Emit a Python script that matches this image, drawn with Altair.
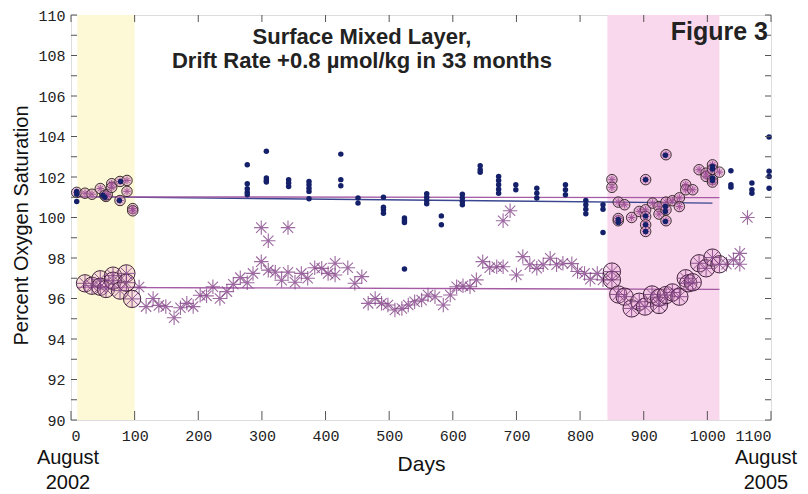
import altair as alt
import pandas as pd

W, H = 700, 405

# ---------------- data ----------------
# navy dots (upper series)
navy_day = [9, 9, 9, 78, 50, 53, 76,
            277, 277, 277, 277, 277,
            307, 307, 307, 307,
            342, 342, 342,
            374, 374, 374, 374, 374,
            424, 424, 424,
            451, 451,
            491, 491, 491, 491,
            524, 524, 524, 524,
            559, 559, 559, 559,
            582, 582,
            615, 615, 615, 615,
            643, 643, 643,
            672, 672, 672, 672, 672,
            699, 699,
            732, 732, 732,
            777, 777, 777,
            809, 809, 809, 809,
            836, 836, 836,
            860, 860,
            903, 903, 903, 903,
            934, 934, 934, 934,
            1008, 1008, 1008, 1008,
            1037, 1037, 1037,
            1070, 1070, 1070,
            1097, 1097, 1097, 1097]
navy_val = [101.29, 101.15, 100.79, 101.78, 101.1, 101.0, 100.84,
            102.61, 101.67, 101.42, 101.25, 101.12,
            103.27, 101.95, 101.83, 101.75,
            101.87, 101.7, 101.53,
            101.78, 101.62, 101.45, 101.29, 100.93,
            103.13, 101.87, 101.57,
            100.96, 100.71,
            101.0, 100.51, 100.38, 100.21,
            99.97, 99.85, 99.75, 97.46,
            101.17, 101.0, 100.84, 100.68,
            100.08, 99.64,
            101.15, 100.96, 100.79, 100.63,
            102.56, 102.36, 102.23,
            102.03, 101.83, 101.62, 101.4, 101.2,
            101.62, 101.37,
            101.45, 101.2, 100.96,
            101.62, 101.37, 101.12,
            100.84, 100.63, 100.41, 100.18,
            100.63, 100.41, 99.26,
            99.9, 99.75,
            101.87, 100.08, 99.64, 99.31,
            103.07, 100.54, 100.3, 99.8,
            102.52, 102.39, 101.95, 101.83,
            102.31, 101.62, 101.5,
            101.7, 101.37, 101.2,
            103.98, 102.28, 102.03, 101.45]

# purple asterisks (lower series, plus a few high ones)
star_day = [107, 118, 129, 138, 149, 162, 172, 182, 192, 203, 213, 223, 234, 245,
            255, 266, 277, 286, 299, 310, 321, 331, 341, 352, 362, 372, 383, 394,
            404, 415, 415, 435, 446, 457, 467, 478, 488, 498, 509, 520, 530, 540,
            551, 561, 572, 585, 596, 606, 616, 627, 637, 647, 658, 669, 679, 700,
            710, 721, 732, 742, 753, 763, 773, 787, 796, 807, 816, 827, 836,
            1030, 1041, 1051, 1051,
            299, 310, 341, 679, 690, 1063]
star_val = [96.57, 95.6, 96.0, 95.66, 95.6, 95.05, 95.54, 95.76, 95.6, 96.16, 96.13, 96.58, 96.0, 96.34,
            96.7, 97.03, 96.78, 97.24, 97.82, 97.4, 97.3, 96.9, 97.3, 96.8, 97.24, 97.0, 97.52, 97.49,
            97.24, 97.74, 97.16, 97.52, 96.75, 97.08, 95.76, 96.0, 95.76, 95.68, 95.43, 95.51, 95.68, 95.84,
            95.92, 96.17, 96.09, 95.68, 96.17, 96.58, 96.63, 96.58, 96.92, 97.82, 97.52, 97.57, 97.57, 97.16,
            98.07, 97.67, 97.49, 97.67, 97.99, 97.67, 97.74, 97.72, 97.33, 97.24, 96.95, 97.24, 96.92,
            97.69, 97.91, 98.23, 97.69,
            99.5, 98.85, 99.5, 99.84, 100.33, 100.0]

# small circled markers (upper series inside the shaded periods)
ring_day = [9, 22, 33, 46, 53, 55, 57, 64, 64, 77, 77, 88, 88, 97, 97,
            850, 850, 860, 860, 860, 870, 881, 893, 903, 903, 903, 903, 903,
            914, 924, 924, 935, 935, 935, 935, 945, 956, 956, 966, 966, 977,
            987, 998, 998, 1008, 1008, 1008, 1008, 1019]
ring_val = [101.24, 101.2, 101.15, 101.43, 101.1, 101.04, 101.13, 101.67, 101.49, 101.78, 100.84,
            101.83, 101.29, 100.44, 100.33,
            101.87, 101.49, 100.76, 99.84, 99.95, 100.63, 100.0, 100.3, 101.87, 100.38, 100.05, 99.64, 99.31,
            100.71, 100.54, 100.17, 100.76, 100.38, 99.84, 103.1, 100.83, 100.97, 100.54, 101.62, 101.37, 101.37,
            102.36, 102.19, 102.03, 102.6, 102.38, 101.87, 101.75, 102.24]

# large circled markers (lower series inside the shaded periods)
big_day = [22, 33, 46, 46, 55, 66, 66, 77, 87, 87, 96,
           850, 850, 860, 870, 881, 893, 902, 913, 924, 924, 935, 945, 956,
           966, 970, 977, 987, 998, 1008, 1019]
big_val = [96.75, 96.63, 96.95, 96.58, 96.47, 97.13, 96.88, 96.39, 97.24, 96.78, 95.98,
           97.33, 96.92, 96.2, 96.09, 95.51, 95.84, 95.6, 96.2, 95.68, 96.04, 96.17, 96.3, 96.09,
           97.0, 96.75, 96.8, 97.74, 97.49, 98.02, 97.69]

# fitted drift lines (start / end)
navy_fit_day = [10, 1008]
navy_fit_val = [101.03, 100.71]
upper_fit_day = [10, 1019]
upper_fit_val = [101.02, 100.98]
lower_fit_day = [10, 1019]
lower_fit_val = [96.55, 96.45]

# shaded periods
band_start = [10, 843]
band_end = [100, 1019]

x_ticks = list(range(0, 1101, 100))
y_ticks = list(range(90, 111, 1))

# ---------------- chart ----------------
xs = alt.Scale(domain=[0, 1100], nice=False, zero=False)
ys = alt.Scale(domain=[90, 110], nice=False, zero=False)

x_axis = alt.Axis(values=x_ticks, ticks=False, domain=False, grid=False, format="d",
                  labelFont="Liberation Mono", labelFontSize=15, labelColor="#222",
                  labelPadding=8, title="Days", titleFont="Liberation Sans",
                  titleFontSize=21, titleFontWeight="normal", titleColor="#111",
                  titlePadding=10)
y_axis = alt.Axis(values=list(range(90, 111, 2)), ticks=False, domain=False, grid=False,
                  labelFont="Liberation Mono", labelFontSize=15, labelColor="#222",
                  labelPadding=6, title="Percent Oxygen Saturation",
                  titleFont="Liberation Sans", titleFontSize=20, titleFontWeight="normal",
                  titleColor="#111", titlePadding=6, titleY=210)

X = alt.X("day:Q", scale=xs, axis=x_axis)
Y = alt.Y("val:Q", scale=ys, axis=y_axis)

df_navy = pd.DataFrame({"day": navy_day, "val": navy_val})
df_star = pd.DataFrame({"day": star_day, "val": star_val})
df_ring = pd.DataFrame({"day": ring_day, "val": ring_val})
df_big = pd.DataFrame({"day": big_day, "val": big_val})
df_nfit = pd.DataFrame({"day": navy_fit_day, "val": navy_fit_val})
df_ufit = pd.DataFrame({"day": upper_fit_day, "val": upper_fit_val})
df_lfit = pd.DataFrame({"day": lower_fit_day, "val": lower_fit_val})
df_band1 = pd.DataFrame({"day": band_start[:1], "day2": band_end[:1]})
df_band2 = pd.DataFrame({"day": band_start[1:], "day2": band_end[1:]})
df_xt = pd.DataFrame({"day": x_ticks})
df_yt = pd.DataFrame({"val": y_ticks})

ASTER = "M-1,0L1,0M0,-1L0,1M-0.71,-0.71L0.71,0.71M-0.71,0.71L0.71,-0.71"

band1 = alt.Chart(df_band1).mark_rect(color="#fdf9d6").encode(
    x=X, x2="day2:Q", y=alt.value(0), y2=alt.value(H))
band2 = alt.Chart(df_band2).mark_rect(color="#f9d7ec").encode(
    x=X, x2="day2:Q", y=alt.value(0), y2=alt.value(H))

fit_n = alt.Chart(df_nfit).mark_line(strokeWidth=1.4, color="#3a468f").encode(x=X, y=Y)
fit_u = alt.Chart(df_ufit).mark_line(strokeWidth=1.4, color="#a45ba4").encode(x=X, y=Y)
fit_l = alt.Chart(df_lfit).mark_line(strokeWidth=1.4, color="#a45ba4").encode(x=X, y=Y)

stars = alt.Chart(df_star).mark_point(shape=ASTER, size=210, filled=False, strokeWidth=1.1,
                                      color="#85458a", opacity=0.8).encode(x=X, y=Y)

big_ring = alt.Chart(df_big).mark_point(shape="circle", size=300, filled=True,
                                        fill="#e9a6d2", fillOpacity=0.3, stroke="#2a1028",
                                        strokeWidth=1, strokeOpacity=0.9).encode(x=X, y=Y)
big_star = alt.Chart(df_big).mark_point(shape=ASTER, size=280, filled=False, strokeWidth=1,
                                        color="#7e3f82", opacity=0.85).encode(x=X, y=Y)

small_ring = alt.Chart(df_ring).mark_point(shape="circle", size=110, filled=True,
                                           fill="#d68fc0", fillOpacity=0.5, stroke="#2a2020",
                                           strokeWidth=1, strokeOpacity=0.9).encode(x=X, y=Y)
small_star = alt.Chart(df_ring).mark_point(shape=ASTER, size=55, filled=False, strokeWidth=1,
                                           color="#9a4b92", opacity=0.9).encode(x=X, y=Y)

navy = alt.Chart(df_navy).mark_circle(size=30, color="#15206a", opacity=1).encode(x=X, y=Y)

tick_style = dict(color="#555", strokeWidth=1)
yt_left = alt.Chart(df_yt).mark_rule(**tick_style).encode(x=alt.value(0), x2=alt.value(6), y=Y)
yt_right = alt.Chart(df_yt).mark_rule(**tick_style).encode(x=alt.value(W - 6), x2=alt.value(W), y=Y)
xt_bottom = alt.Chart(df_xt).mark_rule(**tick_style).encode(x=X, y=alt.value(H - 9), y2=alt.value(H))
xt_top = alt.Chart(df_xt).mark_rule(**tick_style).encode(x=X, y=alt.value(0), y2=alt.value(7))

one = pd.DataFrame({"t": [0]})
title1 = alt.Chart(one).mark_text(text="Surface Mixed Layer,", font="Liberation Sans",
                                  fontSize=22, fontWeight="bold", color="#222").encode(
    x=alt.value(291), y=alt.value(22))
title2 = alt.Chart(one).mark_text(text="Drift Rate +0.8 µmol/kg in 33 months", font="Liberation Sans",
                                  fontSize=22, fontWeight="bold", color="#222").encode(
    x=alt.value(291), y=alt.value(46))
fig = alt.Chart(one).mark_text(text="Figure 3", font="Liberation Sans", fontSize=25,
                               fontWeight="bold", color="#222", align="right").encode(
    x=alt.value(697), y=alt.value(17))
aug1 = alt.Chart(one).mark_text(text=["August", "2002"], font="Liberation Sans", fontSize=20,
                                lineHeight=25, color="#111", baseline="top").encode(
    x=alt.value(-3), y=alt.value(433))
aug2 = alt.Chart(one).mark_text(text=["August", "2005"], font="Liberation Sans", fontSize=20,
                                lineHeight=25, color="#111", baseline="top").encode(
    x=alt.value(695), y=alt.value(433))

chart = alt.layer(
    band1, band2, fit_n, fit_u, fit_l, stars, big_ring, big_star, small_ring, small_star, navy,
    yt_left, yt_right, xt_bottom, xt_top, title1, title2, fig, aug1, aug2
).properties(
    width=W, height=H,
    padding={"left": 63, "top": 7, "right": 29, "bottom": 74},
    autosize=alt.AutoSizeParams(type="none"),
).configure_view(stroke="#8a8a8a", strokeWidth=1.5).configure(background="white")

chart.save("out.html", embed_options={"renderer": "svg", "actions": False})
